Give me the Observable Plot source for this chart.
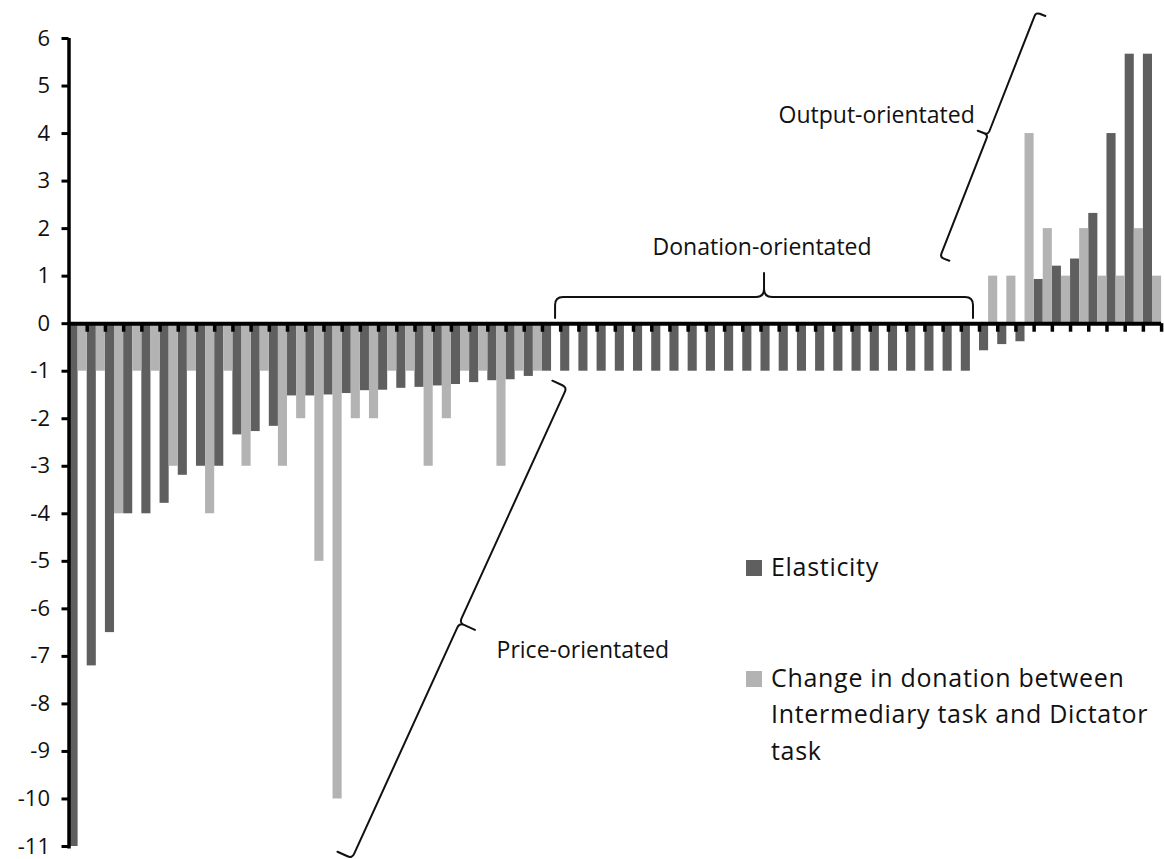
<!DOCTYPE html>
<html>
<head>
<meta charset="utf-8">
<script src="https://cdn.jsdelivr.net/npm/d3@7"></script>
<script src="https://cdn.jsdelivr.net/npm/@observablehq/plot@0.6"></script>
<style>
  html, body { margin: 0; padding: 0; background: #fff; }
  #wrap { position: relative; width: 1164px; height: 859px; overflow: hidden; font-family: "Open Sans", sans-serif; }
  #legend { position: absolute; left: 746px; top: 548px; font-size: 25px; letter-spacing: 0.7px; line-height: 36.6px; color: #111; }
  #legend .item { display: flex; align-items: flex-start; }
  #legend .sw { width: 16px; height: 16px; margin-top: 12px; margin-right: 9px; flex: none; }
</style>
</head>
<body>
<div id="wrap"></div>
<script>
// Participants (one category per participant), sorted as in the figure
const participants = d3.range(1, 61);

// Series 1: Elasticity (dark bars)
const elasticity = [
  -11, -7.2, -6.5, -4, -4, -3.78, -3.19, -3, -3, -2.34,
  -2.27, -2.16, -1.52, -1.52, -1.5, -1.47, -1.41, -1.4, -1.36, -1.34,
  -1.31, -1.28, -1.24, -1.2, -1.18, -1.11, -1, -1, -1, -1,
  -1, -1, -1, -1, -1, -1, -1, -1, -1, -1,
  -1, -1, -1, -1, -1, -1, -1, -1, -1, -1,
  -0.57, -0.44, -0.38, 0.93, 1.21, 1.36, 2.32, 4, 5.67, 5.67
];

// Series 2: Change in donation between Intermediary task and Dictator task (light bars)
const donationChange = [
  -1, -1, -4, -1, -1, -3, -1, -4, -1, -3,
  -1, -3, -2, -5, -10, -2, -2, -1, -1, -3,
  -2, -1, -1, -3, -1, -1, 0, 0, 0, 0,
  0, 0, 0, 0, 0, 0, 0, 0, 0, 0,
  0, 0, 0, 0, 0, 0, 0, 0, 0, 0,
  1, 1, 4, 2, 1, 2, 1, 1, 2, 1
];

const yTicks = d3.range(-11, 7);
const seriesNames = ["Elasticity", "Change in donation between Intermediary task and Dictator task"];
const seriesColors = ["#5f5f5f", "#b3b3b3"];

// Group labels (data units)
const groupLabels = [
  {text: "Price-orientated", x: 23.48, y: -6.87, anchor: "start"},
  {text: "Donation-orientated", x: 38.06, y: 1.59, anchor: "middle"},
  {text: "Output-orientated", x: 44.35, y: 4.38, anchor: "middle"}
];
// Curly braces (data units): ends of the brace line, side of the tip
const braces = [
  {x1: 27.37, y1: -1.35, x2: 15.57, y2: -11.26, side: -1, end: 16, tip: 17, r: 5},
  {x1: 26.72, y1: 0.55, x2: 49.67, y2: 0.55, side: -1, end: 21, tip: 24, r: 8},
  {x1: 53.13, y1: 6.54, x2: 47.86, y2: 1.39, side: 1, end: 10, tip: 11, r: 4}
];

const rows = participants.map((p, k) => ({participant: p, elasticity: elasticity[k], change: donationChange[k]}));
const boundaries = participants.slice();

const plot = Plot.plot({
  width: 1164,
  height: 859,
  marginLeft: 68.5,
  marginRight: 2.9,
  marginTop: 38,
  marginBottom: 13,
  x: {type: "linear", domain: [0, 60], axis: null},
  y: {domain: [-11, 6]},
  style: {fontFamily: "'Open Sans', sans-serif", color: "#111", background: "white", overflow: "visible"},
  marks: [
    Plot.rectY(rows, {x1: d => d.participant - 1, x2: d => d.participant - 0.5, y1: 0, y2: "elasticity", fill: seriesColors[0]}),
    Plot.rectY(rows, {x1: d => d.participant - 0.5, x2: d => d.participant, y1: 0, y2: "change", fill: seriesColors[1]}),
    Plot.ruleY([0], {x1: 0, x2: 60, stroke: "#000", strokeWidth: 4}),
    Plot.ruleX(boundaries, {x: d => d, y1: 0, y2: -0.18, stroke: "#000", strokeWidth: 3.5}),
    Plot.ruleX([0], {y1: -11.05, y2: 6, stroke: "#000", strokeWidth: 3.5}),
    Plot.axisY({ticks: yTicks, tickSize: 7, tickPadding: 12, fontSize: 22, strokeWidth: 3, stroke: "#000",
      tickFormat: d => d < 0 ? "-" + Math.abs(d) : String(d)}),
    Plot.text(groupLabels.filter(d => d.anchor === "start"), {x: "x", y: "y", text: "text", textAnchor: "start", fontSize: 23, fill: "#111"}),
    Plot.text(groupLabels.filter(d => d.anchor === "middle"), {x: "x", y: "y", text: "text", textAnchor: "middle", fontSize: 23, fill: "#111"})
  ]
});

// draw curly braces through the plot's scales
const sx = plot.scale("x"), sy = plot.scale("y");
function bracePath(b) {
  const ax = sx.apply(b.x1), ay = sy.apply(b.y1), bx = sx.apply(b.x2), by = sy.apply(b.y2);
  const dx = bx - ax, dy = by - ay, L = Math.hypot(dx, dy);
  const ux = dx / L, uy = dy / L;
  const nx = -uy * b.side, ny = ux * b.side;
  const P = (u, v) => (ax + ux * u + nx * v).toFixed(2) + "," + (ay + uy * u + ny * v).toFixed(2);
  const r = b.r, h = L / 2;
  return "M" + P(0, -b.end) + "L" + P(0, -r) + "Q" + P(0, 0) + " " + P(r, 0) +
    "L" + P(h - r, 0) + "Q" + P(h, 0) + " " + P(h, r) + "L" + P(h, b.tip) +
    "M" + P(h, r) + "Q" + P(h, 0) + " " + P(h + r, 0) +
    "L" + P(L - r, 0) + "Q" + P(L, 0) + " " + P(L, -r) + "L" + P(L, -b.end);
}
d3.select(plot).append("g")
  .selectAll("path").data(braces).join("path")
  .attr("d", bracePath).attr("fill", "none").attr("stroke", "#111").attr("stroke-width", 2)
  .attr("stroke-linejoin", "round").attr("stroke-linecap", "round");

const wrap = document.getElementById("wrap");
wrap.appendChild(plot);

// legend
const legend = document.createElement("div");
legend.id = "legend";
legend.innerHTML =
  '<div class="item"><span class="sw" style="background:' + seriesColors[0] + '"></span><span>' + seriesNames[0] + '</span></div>' +
  '<div class="item" style="margin-top:74px"><span class="sw" style="background:' + seriesColors[1] + '"></span><span>Change in donation between<br>Intermediary task and Dictator<br>task</span></div>';
wrap.appendChild(legend);
</script>
</body>
</html>
